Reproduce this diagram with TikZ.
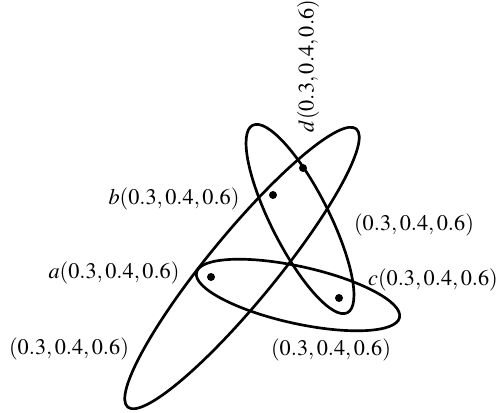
\documentclass[tikz,border=0pt]{standalone}
\usepackage{amsmath,amssymb}
\usepackage{mathptmx}
\usepackage{tikz}
\usetikzlibrary{positioning,calc}

\begin{document}
\begin{tikzpicture}[x=0.0158cm,y=0.0158cm,
        vtx/.style={circle,fill=black,inner sep=0pt,minimum size=3.6pt},
        hedge/.style={draw=black,very thick},
        lbl/.style={inner sep=0pt}
      ]
        \useasboundingbox (0,0) rectangle (504,412);
        % vertices
        \node[vtx] (a) at (211,135) {};
        \node[vtx] (b) at (273,217) {};
        \node[vtx] (c) at (339,114) {};
        \node[vtx] (d) at (303,244) {};
        % hyperedges
        \draw[hedge,rotate around={50.6:(242,144)}] (242,144) ellipse [x radius=180,y radius=34];
        \draw[hedge,rotate around={-63.2:(300,193)}] (300,193) ellipse [x radius=105,y radius=29];
        \draw[hedge,rotate around={-12.5:(298,117)}] (298,117) ellipse [x radius=104,y radius=28.5];
        % labels
        \node[lbl,rotate=90] (ld) at (308,346) {$d(0.3,0.4,0.6)$};
        \node[lbl] (lb) at (174,213) {$b(0.3,0.4,0.6)$};
        \node[lbl] (la) at (114,139) {$a(0.3,0.4,0.6)$};
        \node[lbl] (lc) at (433,132) {$c(0.3,0.4,0.6)$};
        \node[lbl] (le1) at (69,63) {$(0.3,0.4,0.6)$};
        \node[lbl] (le2) at (414,187) {$(0.3,0.4,0.6)$};
        \node[lbl] (le3) at (331,62) {$(0.3,0.4,0.6)$};
      \end{tikzpicture}
\end{document}
